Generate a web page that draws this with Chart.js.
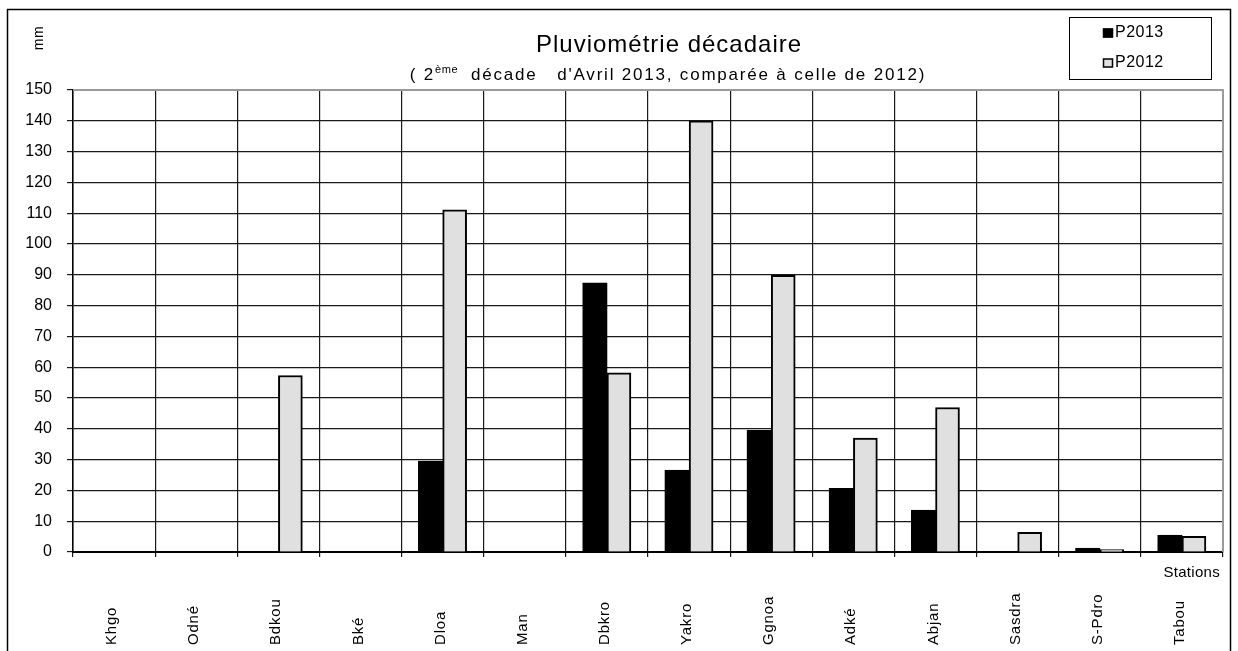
<!DOCTYPE html>
<html lang="fr">
<head>
<meta charset="utf-8">
<title>Pluviométrie décadaire</title>
<script src="https://cdn.jsdelivr.net/npm/chart.js@4.4.1/dist/chart.umd.min.js"></script>
<style>
  html, body { margin: 0; padding: 0; background: #fff; }
  #wrap { position: relative; width: 1238px; height: 651px; }
</style>
</head>
<body>
<div id="wrap"><canvas id="rainChart"></canvas></div>
<script>
/* global Chart */

// Stations (x categories)
const STATIONS = ['Khgo', 'Odné', 'Bdkou', 'Bké', 'Dloa', 'Man', 'Dbkro',
  'Yakro', 'Ggnoa', 'Adké', 'Abjan', 'Sasdra', 'S-Pdro', 'Tabou'];

// Rainfall in mm
const P2013 = [0, 0, 0, 0, 29.4, 0, 87.3, 26.5, 39.4, 20.6, 13.5, 0, 1.2, 5.4];
const P2012 = [0, 0, 57.3, 0, 111.1, 0, 58.2, 140, 89.8, 37, 46.9, 6.4, 0.8, 5.1];

// y axis ticks
const Y_MIN = 0;
const Y_MAX = 150;
const Y_STEP = 10;

const FONT = '"Liberation Sans", Arial, sans-serif';

function _text(ctx, str, x, y, size, opts = {}) {
  ctx.save();
  ctx.font = size + 'px ' + FONT;
  ctx.fillStyle = '#000';
  ctx.textAlign = opts.align || 'left';
  ctx.textBaseline = opts.baseline || 'middle';
  ctx.letterSpacing = (opts.spacing || 0) + 'px';
  ctx.fillText(str, x, y);
  ctx.restore();
}

function _width(ctx, str, size, spacing) {
  ctx.save();
  ctx.font = size + 'px ' + FONT;
  ctx.letterSpacing = (spacing || 0) + 'px';
  const w = ctx.measureText(str).width;
  ctx.restore();
  return w;
}

// Everything the reference draws outside the standard chart parts
const decorPlugin = {
  id: 'decor',
  afterDraw(chart) {
    const ctx = chart.ctx;
    const area = chart.chartArea;
    const xScale = chart.scales.x;

    // outer frame
    ctx.save();
    ctx.strokeStyle = '#000';
    ctx.lineWidth = 1.5;
    ctx.strokeRect(7.5, 9.5, 1223, 700);

    // grey top / right border of the plot
    ctx.strokeStyle = '#9a9a9a';
    ctx.lineWidth = 2;
    ctx.beginPath();
    ctx.moveTo(area.left, area.top);
    ctx.lineTo(area.right, area.top);
    ctx.lineTo(area.right, area.bottom);
    ctx.stroke();
    ctx.restore();

    // title
    _text(ctx, 'Pluviométrie décadaire', 669, 45, 24, { align: 'center', spacing: 1 });

    // subtitle with superscript
    const a = '( 2', sup = 'ème', b = '  décade   d\'Avril 2013, comparée à celle de 2012)';
    const wa = _width(ctx, a, 17, 1.8), ws = _width(ctx, sup, 11, 0.5), wb = _width(ctx, b, 17, 1.8);
    let sx = 668 - (wa + ws + wb) / 2;
    _text(ctx, a, sx, 75, 17, { spacing: 1.8 });
    sx += wa;
    _text(ctx, sup, sx, 70, 11, { spacing: 0.5 });
    sx += ws;
    _text(ctx, b, sx, 75, 17, { spacing: 1.8 });

    // unit label
    ctx.save();
    ctx.translate(39, 38);
    ctx.rotate(-Math.PI / 2);
    _text(ctx, 'mm', 0, 0, 14, { align: 'center', spacing: 0.5 });
    ctx.restore();

    // axis title
    _text(ctx, 'Stations', 1220, 573, 15, { align: 'right', spacing: 0.3 });

    // station labels, rotated, bottom aligned
    chart.data.labels.forEach((lbl, i) => {
      ctx.save();
      ctx.translate(xScale.getPixelForValue(i) - 2, 645);
      ctx.rotate(-Math.PI / 2);
      _text(ctx, lbl, 0, 0, 15, { spacing: 0.8 });
      ctx.restore();
    });

    // legend box
    ctx.save();
    ctx.strokeStyle = '#000';
    ctx.lineWidth = 1;
    ctx.strokeRect(1069.5, 17.5, 142, 62);
    chart.data.datasets.forEach((ds, i) => {
      const y = 33 + i * 30;
      ctx.fillStyle = ds.backgroundColor;
      ctx.fillRect(1103, y - 4.5, 10, 9);
      ctx.strokeStyle = '#000';
      ctx.lineWidth = 1.5;
      ctx.strokeRect(1103.5, y - 4, 9, 8);
      _text(ctx, ds.label, 1115, y, 16, { spacing: 0.5 });
    });
    ctx.restore();
  },
};

function createRainChart(canvasId) {
  const ctx = document.getElementById(canvasId).getContext('2d');
  return new Chart(ctx, {
    type: 'bar',
    data: {
      labels: STATIONS,
      datasets: [
        { label: 'P2013', data: P2013, backgroundColor: '#000000', borderColor: '#000000', borderWidth: 1.5, inflateAmount: 0.6 },
        { label: 'P2012', data: P2012, backgroundColor: '#e0e0e0', borderColor: '#000000', borderWidth: 2, inflateAmount: 0.3 },
      ],
    },
    options: {
      responsive: true,
      maintainAspectRatio: false,
      animation: false,
      devicePixelRatio: 1,
      categoryPercentage: 0.585,
      barPercentage: 1.0,
      layout: { padding: { top: 90, right: 15, left: 0, bottom: 0 } },
      plugins: {
        legend: { display: false },
        title: { display: false },
        tooltip: { enabled: false },
      },
      scales: {
        x: {
          grid: { offset: true, color: '#1a1a1a', lineWidth: 1.2, tickLength: 5, drawTicks: true },
          border: { color: '#000', width: 2 },
          ticks: { display: false },
          afterFit(scale) { scale.height = 99; },
        },
        y: {
          min: Y_MIN,
          max: Y_MAX,
          grid: { color: '#1a1a1a', lineWidth: 1.2, tickLength: 6 },
          border: { color: '#000', width: 1.5 },
          ticks: {
            stepSize: Y_STEP,
            padding: 15,
            color: '#000',
            font: { family: FONT, size: 16 },
          },
          afterFit(scale) { scale.width = 73; },
        },
      },
    },
    plugins: [decorPlugin],
  });
}

createRainChart('rainChart');
</script>
</body>
</html>
